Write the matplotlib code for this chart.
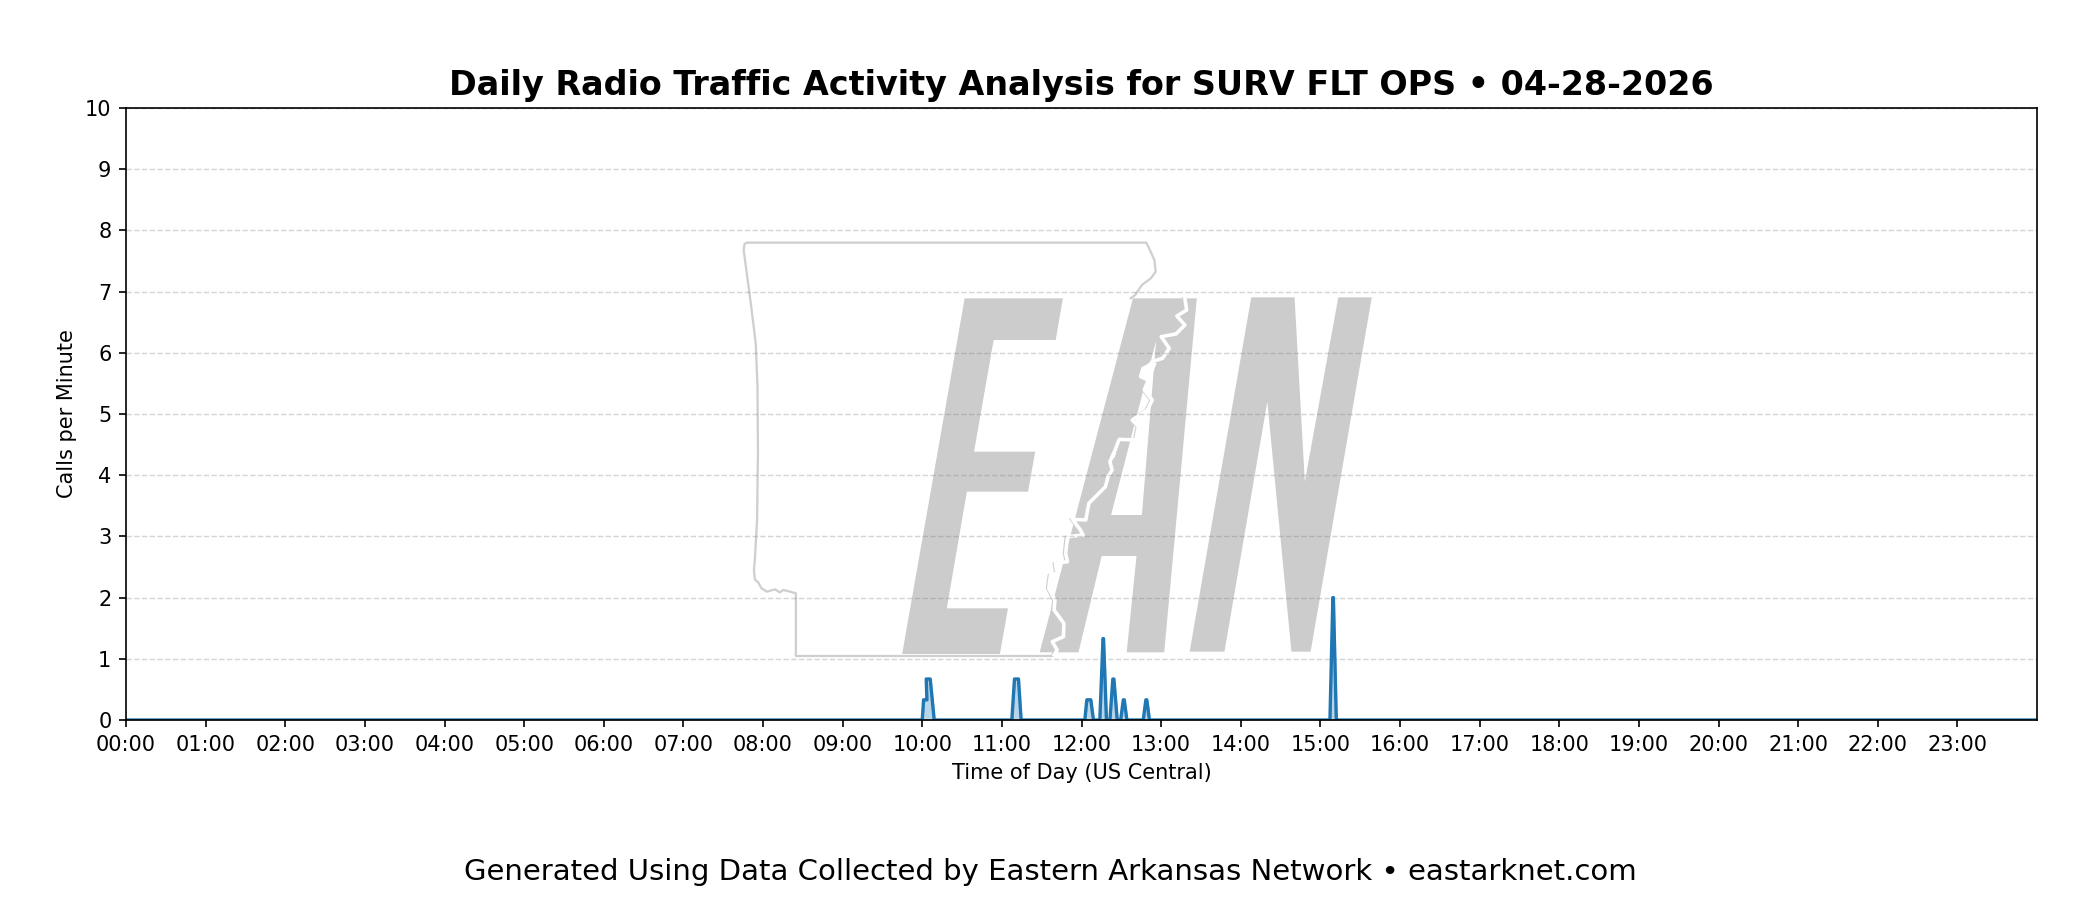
import matplotlib
matplotlib.use('Agg')
import matplotlib.pyplot as plt
import numpy as np

title_text = 'Daily Radio Traffic Activity Analysis for SURV FLT OPS • 04-28-2026'
footer_text = 'Generated Using Data Collected by Eastern Arkansas Network • eastarknet.com'

# minutes after midnight and calls per minute
minutes = [0, 600, 601, 603.5, 603, 606, 609,
           667.5, 669.5, 672.5, 674.5,
           722.5, 724, 727, 729,
           733.8, 736.2, 736.6, 738.8,
           741.4, 743.6, 744.4, 746.9,
           749.5, 751.5, 752.2, 754.2,
           766.5, 768.5, 769.2, 771.2,
           907.2, 909.4, 909.8, 912, 1440]
calls = [0, 0, 0.33, 0.33, 0.67, 0.67, 0,
         0, 0.67, 0.67, 0,
         0, 0.33, 0.33, 0,
         0, 1.33, 1.33, 0,
         0, 0.67, 0.67, 0,
         0, 0.33, 0.33, 0,
         0, 0.33, 0.33, 0,
         0, 2, 2, 0, 0]

hour_labels = ['%02d:00' % h for h in range(24)]

# watermark outlines, as measured on the zoomed crop of the reference
letter_e = [(548, 235), (768, 235), (752, 360), (613, 360), (569, 695), (706, 695), (690, 815),
            (553, 815), (508, 1165), (645, 1165), (627, 1302), (408, 1302)]
letter_a = [(716, 1297), (925, 235), (1068, 235), (995, 1297), (911, 1297), (933, 1008),
            (855, 1008), (803, 1297)]
letter_a_hole = [(977, 362), (945, 885), (876, 885)]
letter_n = [(1190, 232), (1287, 232), (1310, 785), (1385, 232), (1460, 232), (1323, 1295),
            (1280, 1295), (1226, 545), (1130, 1295), (1052, 1295)]
state_west = [(747, 1300), (746, 1308), (170, 1308), (170, 1120), (157, 1115), (142, 1110),
              (134, 1117), (123, 1108), (105, 1115), (93, 1105), (86, 1088), (78, 1078),
              (76, 1050), (78, 1020), (83, 900), (85, 700), (84, 500), (80, 370), (70, 260),
              (60, 160), (53, 90), (55, 72), (60, 68), (955, 68), (963, 90), (973, 120),
              (976, 155), (965, 175), (945, 195), (930, 225), (920, 235)]
state_river = [(1040, 235), (1044, 270), (1022, 288), (1040, 315), (1020, 342), (987, 350),
               (1005, 385), (990, 415), (967, 425), (941, 470), (958, 480), (949, 510),
               (967, 540), (956, 570), (922, 600), (936, 620), (930, 660), (893, 658),
               (878, 710), (881, 700), (872, 725), (877, 750), (868, 770), (862, 800),
               (825, 850), (818, 900), (788, 898), (795, 910), (806, 930), (812, 945),
               (777, 950), (773, 1000), (777, 1025), (750, 1030), (754, 1060), (739, 1065),
               (735, 1105), (749, 1140), (747, 1170), (769, 1210), (768, 1250), (743, 1265),
               (754, 1290), (747, 1305)]
river_lake = [(968, 425), (978, 430), (968, 465), (950, 480), (938, 470), (944, 442)]


def logo_xy(points, shift=0.0):
    # crop coordinates to figure fractions
    pts = np.array(points, dtype=float)
    px = 720 + pts[:, 0] / 2.24 + shift
    py = 220 + pts[:, 1] / 3.0
    return px / 2100.0, 1 - py / 900.0


def main():
    fig = plt.figure(figsize=(14, 6), dpi=150)
    ax = fig.add_axes([126 / 2100, 1 - 720 / 900, (2037 - 126) / 2100, (720 - 108) / 900])

    # watermark sits under the grid
    for letter in [letter_e, letter_a, letter_n]:
        x, y = logo_xy(letter)
        ax.fill(x, y, color='#cccccc', lw=0, transform=fig.transFigure, zorder=0.1)
    x, y = logo_xy(letter_a_hole)
    ax.fill(x, y, color='white', lw=0, transform=fig.transFigure, zorder=0.15)
    x, y = logo_xy(state_west)
    ax.plot(x, y, color='#cfcfcf', lw=1.1, transform=fig.transFigure, zorder=0.2)
    x, y = logo_xy(state_river, -1.2)
    ax.plot(x, y, color='#cfcfcf', lw=1.1, transform=fig.transFigure, zorder=0.2)
    x, y = logo_xy(state_river, 0.6)
    ax.plot(x, y, color='white', lw=1.7, transform=fig.transFigure, zorder=0.25)
    x, y = logo_xy(river_lake)
    ax.fill(x, y, color='white', lw=0, transform=fig.transFigure, zorder=0.25)

    ax.set_axisbelow(True)
    ax.grid(axis='y', linestyle='--', color='gray', alpha=0.33, lw=0.7)

    ax.plot(minutes, calls, color='#1f77b4', lw=1.6)
    ax.fill_between(minutes, calls, color='#1f77b4', alpha=0.3)

    ax.set_xlim(0, 1440)
    ax.set_ylim(0, 10)
    ax.set_yticks(range(11))
    ax.set_xticks(range(0, 1440, 60))
    ax.set_xticklabels(hour_labels)
    ax.tick_params(labelsize=10)
    ax.set_xlabel('Time of Day (US Central)', fontsize=10)
    ax.set_ylabel('Calls per Minute', fontsize=10)
    ax.set_title(title_text, fontsize=16, fontweight='bold')
    fig.text(0.5, 0.022, footer_text, ha='center', fontsize=14)
    fig.savefig('out.png', dpi=150)


if __name__ == "__main__":
    main()
